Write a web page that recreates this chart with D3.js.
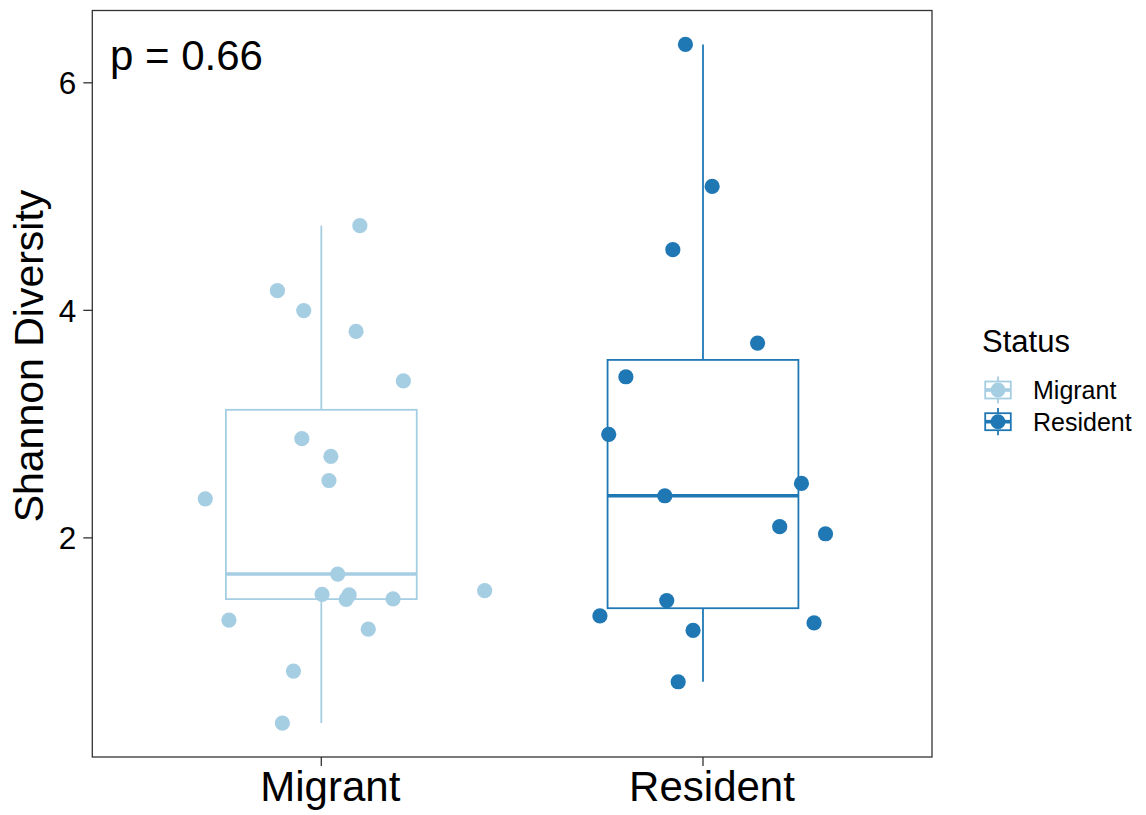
<!DOCTYPE html>
<html>
<head>
<meta charset="utf-8">
<script src="https://cdn.jsdelivr.net/npm/d3@7"></script>
<style>
  html, body { margin: 0; padding: 0; background: #fff; }
  svg text { font-family: "Liberation Sans", Arial, Helvetica, sans-serif; }
</style>
</head>
<body>
<svg id="chart" width="1146" height="815"></svg>
<script>
// Shannon diversity per sample, by migratory status
const categories = ["Migrant", "Resident"];
const colors = ["#A6CEE3", "#1F78B4"];

const migrantValues = [4.740, 4.169, 3.994, 3.810, 3.375, 2.868, 2.713, 2.500, 2.339, 1.678,
                       1.532, 1.500, 1.494, 1.456, 1.459, 1.272, 1.193, 0.825, 0.368];
// horizontal jitter for each sample, in category widths
const migrantJitter = [0.101, -0.115, -0.046, 0.091, 0.215, -0.051, 0.025, 0.020, -0.304, 0.043,
                       0.428, 0.002, 0.073, 0.065, 0.188, -0.242, 0.123, -0.073, -0.102];

const residentValues = [6.333, 5.085, 4.529, 3.708, 3.412, 2.906, 2.474, 2.366, 2.094, 2.032,
                        1.445, 1.310, 1.248, 1.182, 0.731];
const residentJitter = [-0.046, 0.024, -0.079, 0.143, -0.202, -0.247, 0.258, -0.100, 0.201, 0.321,
                        -0.095, -0.270, 0.291, -0.026, -0.065];

const yTicks = [2, 4, 6];
const pLabel = "p = 0.66";
const yTitle = "Shannon Diversity";
const legendTitle = "Status";

const groups = categories.map((c, i) => ({
  name: c,
  color: colors[i],
  values: i === 0 ? migrantValues : residentValues,
  jitter: i === 0 ? migrantJitter : residentJitter
}));

const svg = d3.select("#chart");
const panel = { left: 92.3, right: 932, top: 10.5, bottom: 757 };

const x = d3.scaleBand()
  .domain(categories)
  .range([panel.left, panel.right])
  .paddingInner(0)
  .paddingOuter(0.1);

const allValues = migrantValues.concat(residentValues);
const [vmin, vmax] = d3.extent(allValues);
const pad = (vmax - vmin) * 0.05;
const y = d3.scaleLinear()
  .domain([vmin - pad, vmax + pad])
  .range([panel.bottom, panel.top]);

const step = x.step();
const cx = c => x(c) + x.bandwidth() / 2;
const boxWidth = step * 0.5;
const ptR = 7.6;
const lineW = 1.8;

// box statistics (Tukey whiskers)
groups.forEach(g => {
  const s = g.values.slice().sort(d3.ascending);
  g.q1 = d3.quantile(s, 0.25);
  g.med = d3.quantile(s, 0.5);
  g.q3 = d3.quantile(s, 0.75);
  const iqr = g.q3 - g.q1;
  g.lo = d3.min(s.filter(v => v >= g.q1 - 1.5 * iqr));
  g.hi = d3.max(s.filter(v => v <= g.q3 + 1.5 * iqr));
});

// boxplots
const boxes = svg.append("g").selectAll("g").data(groups).join("g");
boxes.append("line")
  .attr("x1", d => cx(d.name)).attr("x2", d => cx(d.name))
  .attr("y1", d => y(d.hi)).attr("y2", d => y(d.q3))
  .attr("stroke", d => d.color).attr("stroke-width", lineW);
boxes.append("line")
  .attr("x1", d => cx(d.name)).attr("x2", d => cx(d.name))
  .attr("y1", d => y(d.q1)).attr("y2", d => y(d.lo))
  .attr("stroke", d => d.color).attr("stroke-width", lineW);
boxes.append("rect")
  .attr("x", d => cx(d.name) - boxWidth / 2)
  .attr("width", boxWidth)
  .attr("y", d => y(d.q3))
  .attr("height", d => y(d.q1) - y(d.q3))
  .attr("fill", "#fff")
  .attr("stroke", d => d.color).attr("stroke-width", lineW);
boxes.append("line")
  .attr("x1", d => cx(d.name) - boxWidth / 2).attr("x2", d => cx(d.name) + boxWidth / 2)
  .attr("y1", d => y(d.med)).attr("y2", d => y(d.med))
  .attr("stroke", d => d.color).attr("stroke-width", lineW * 2);

// jittered points
const pts = groups.flatMap(g => g.values.map((v, i) => ({ name: g.name, color: g.color, v, j: g.jitter[i] })));
svg.append("g").selectAll("circle").data(pts).join("circle")
  .attr("cx", d => cx(d.name) + d.j * step)
  .attr("cy", d => y(d.v))
  .attr("r", ptR)
  .attr("fill", d => d.color);

// panel border
svg.append("rect")
  .attr("x", panel.left).attr("y", panel.top)
  .attr("width", panel.right - panel.left).attr("height", panel.bottom - panel.top)
  .attr("fill", "none").attr("stroke", "#333333").attr("stroke-width", 1.3);

// axes
const yAxis = svg.append("g")
  .attr("transform", `translate(${panel.left},0)`)
  .call(d3.axisLeft(y).tickValues(yTicks).tickSize(9).tickPadding(7).tickFormat(d3.format("d")));
const xAxis = svg.append("g")
  .attr("transform", `translate(0,${panel.bottom})`)
  .call(d3.axisBottom(x).tickSize(9).tickPadding(5));
[yAxis, xAxis].forEach(a => {
  a.select(".domain").remove();
  a.selectAll(".tick line").attr("stroke", "#333333").attr("stroke-width", 1.3);
  a.selectAll(".tick text").attr("fill", "#000");
});
yAxis.selectAll(".tick text").attr("font-size", 31.5).attr("dy", "0.36em");
xAxis.selectAll(".tick text").attr("font-size", 42).attr("dy", "0.71em").attr("dx", 9);

// y title
svg.append("text")
  .attr("transform", `translate(43,356) rotate(-90)`)
  .attr("text-anchor", "middle")
  .attr("font-size", 41)
  .attr("fill", "#000")
  .text(yTitle);

// p-value annotation
svg.append("text")
  .attr("x", 110).attr("y", 69.5)
  .attr("font-size", 42)
  .attr("fill", "#000")
  .text(pLabel);

// legend
const lg = svg.append("g").attr("transform", "translate(982,0)");
lg.append("text").attr("x", 0).attr("y", 351.7).attr("font-size", 31).attr("fill", "#000").text(legendTitle);
const keyW = 32, keyH = 34, keyStep = 31.7;
const keys = lg.selectAll("g.key").data(groups).join("g")
  .attr("class", "key")
  .attr("transform", (d, i) => `translate(0,${373 + i * keyStep})`);
keys.append("line")
  .attr("x1", keyW / 2).attr("x2", keyW / 2)
  .attr("y1", keyH * 0.1).attr("y2", keyH * 0.9)
  .attr("stroke", d => d.color).attr("stroke-width", lineW);
keys.append("rect")
  .attr("x", keyW * 0.1).attr("y", keyH * 0.25)
  .attr("width", keyW * 0.8).attr("height", keyH * 0.5)
  .attr("fill", "#fff").attr("stroke", d => d.color).attr("stroke-width", lineW);
keys.append("line")
  .attr("x1", keyW * 0.1).attr("x2", keyW * 0.9)
  .attr("y1", keyH / 2).attr("y2", keyH / 2)
  .attr("stroke", d => d.color).attr("stroke-width", lineW * 2);
keys.append("circle")
  .attr("cx", keyW / 2).attr("cy", keyH / 2)
  .attr("r", 7.4).attr("fill", d => d.color);
keys.append("text")
  .attr("x", 51).attr("y", keyH / 2)
  .attr("dy", "0.36em")
  .attr("font-size", 25)
  .attr("fill", "#000")
  .text(d => d.name);
</script>
</body>
</html>
